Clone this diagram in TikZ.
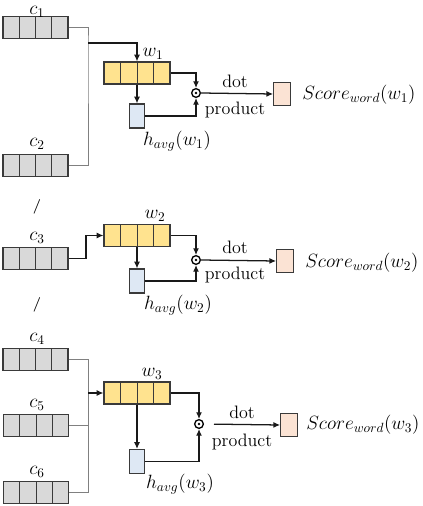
\documentclass[tikz,border=0pt]{standalone}
\usetikzlibrary{calc,arrows.meta}
\definecolor{cgray}{HTML}{D9D9D9}
\definecolor{wyel}{HTML}{FFE38F}
\definecolor{hblue}{HTML}{DEE8F4}
\definecolor{speach}{HTML}{FBE3D4}
\definecolor{edgec}{HTML}{3A3A3A}
\definecolor{thin}{HTML}{808080}
\begin{document}
\begin{tikzpicture}[x=0.75pt,y=-0.75pt,
  font=\fontsize{14}{16}\selectfont,
  vec/.style={draw=edgec, line width=0.9pt, minimum width=48.75pt, minimum height=17pt, inner sep=0pt,
    path picture={\foreach \i in {1,2,3}
      \draw[edgec, line width=0.7pt] ($(path picture bounding box.south west)!\i/4!(path picture bounding box.south east)$) --
            ($(path picture bounding box.north west)!\i/4!(path picture bounding box.north east)$);}},
  cvec/.style={vec, fill=cgray},
  wvec/.style={vec, fill=wyel, minimum width=49.5pt, minimum height=16.5pt},
  hbox/.style={draw=edgec, line width=0.9pt, fill=hblue, minimum width=11.5pt, minimum height=18pt, inner sep=0pt},
  sbox/.style={draw=edgec, line width=0.9pt, fill=speach, minimum width=12.5pt, minimum height=17pt, inner sep=0pt},
  odot/.style={circle, draw=black, line width=1pt, minimum size=6.5pt, inner sep=0pt,
    path picture={\fill (path picture bounding box.center) circle (1pt);}},
  arr/.style={draw=black!90, line width=0.95pt, -{Latex[length=5pt,width=4.5pt]}},
  ln/.style={draw=black!90, line width=0.95pt},
  gln/.style={draw=thin, line width=0.7pt},
  lab/.style={inner sep=0pt},
  txt/.style={inner sep=0pt, font=\fontsize{13.5}{15}\selectfont},
  slash/.style={inner sep=0pt, font=\fontsize{11}{12}\selectfont\bfseries}
]
\useasboundingbox (0,0) rectangle (422,506);

% ---------- block 1 ----------
\node[cvec] (c1) at (35.5,27.5) {};
\node[cvec] (c2) at (35.5,165.5) {};
\node[lab] (lc1) at (37,12) {$c_1$};
\node[lab] (lc2) at (37,144) {$c_2$};
\node[wvec] (w1) at (137,73) {};
\node[lab] (lw1) at (153,54) {$w_1$};
\node[hbox] (h1) at (137,116) {};
\node[lab] (lh1) at (177,141) {$h_{avg}(w_1)$};
\node[odot] (d1) at (196,93) {};
\node[sbox] (s1) at (282,94) {};
\node[txt] (t1) at (235,81.5) {dot};
\node[txt] (p1) at (235,110) {product};
\node[lab, anchor=west] (ls1) at (302,95) {$Score_{word}(w_1)$};
\coordinate (j1) at (88,43);
\draw[gln] (c1.east) -| (j1) |- (c2.east);
\draw[arr] (j1) -| (w1.north);
\draw[arr] (w1.east) -| (d1.north);
\draw[arr] (w1.south) -- (h1.north);
\draw[arr] (h1.east) -| (d1.south);
\draw[arr] (d1.east) -- (s1.west);

% ---------- block 2 ----------
\node[slash] (sl1) at (37,207) {/};
\node[cvec] (c3) at (35.5,258.5) {};
\node[lab] (lc3) at (37,238) {$c_3$};
\node[wvec] (w2) at (137,235.5) {};
\node[lab] (lw2) at (155,216) {$w_2$};
\node[hbox] (h2) at (137,281) {};
\node[lab] (lh2) at (178,305) {$h_{avg}(w_2)$};
\node[odot] (d2) at (196,260) {};
\node[sbox] (s2) at (285,261) {};
\node[txt] (t2) at (235,247.5) {dot};
\node[txt] (p2) at (235,275) {product};
\node[lab, anchor=west] (ls2) at (305,263) {$Score_{word}(w_2)$};
\node[slash] (sl2) at (37,305) {/};
\coordinate (j2) at (86,258.5);
\draw[ln] (c3.east) -- (j2);
\draw[arr] (j2) |- (w2.west);
\draw[arr] (w2.east) -| (d2.north);
\draw[arr] (w2.south) -- (h2.north);
\draw[arr] (h2.east) -| (d2.south);
\draw[arr] (d2.east) -- (s2.west);

% ---------- block 3 ----------
\node[cvec] (c4) at (35.5,359.5) {};
\node[cvec] (c5) at (36,425.5) {};
\node[cvec] (c6) at (36,492.5) {};
\node[lab] (lc4) at (37,339) {$c_4$};
\node[lab] (lc5) at (37,405) {$c_5$};
\node[lab] (lc6) at (37,472) {$c_6$};
\node[wvec] (w3) at (137,393) {};
\node[lab] (lw3) at (152,374) {$w_3$};
\node[hbox] (h3) at (137,461.5) {};
\node[lab] (lh3) at (180,484) {$h_{avg}(w_3)$};
\node[odot] (d3) at (199,424) {};
\node[sbox] (s3) at (289,425) {};
\node[txt] (t3) at (242,412.5) {dot};
\node[txt] (p3) at (242,442) {product};
\node[lab, anchor=west] (ls3) at (306,425) {$Score_{word}(w_3)$};
\coordinate (j3) at (88,393);
\draw[gln] (c4.east) -| (j3);
\draw[gln] (c6.east) -| (j3);
\draw[gln] (c5.east) -- (c5.east -| j3);
\draw[arr] (j3) -- (w3.west);
\draw[arr] (w3.east) -| (d3.north);
\draw[arr] (w3.south) -- (h3.north);
\draw[arr] (h3.east) -| (d3.south);
\draw[arr, shorten <=7.5pt] (d3.east) -- (s3.west);
\end{tikzpicture}
\end{document}
